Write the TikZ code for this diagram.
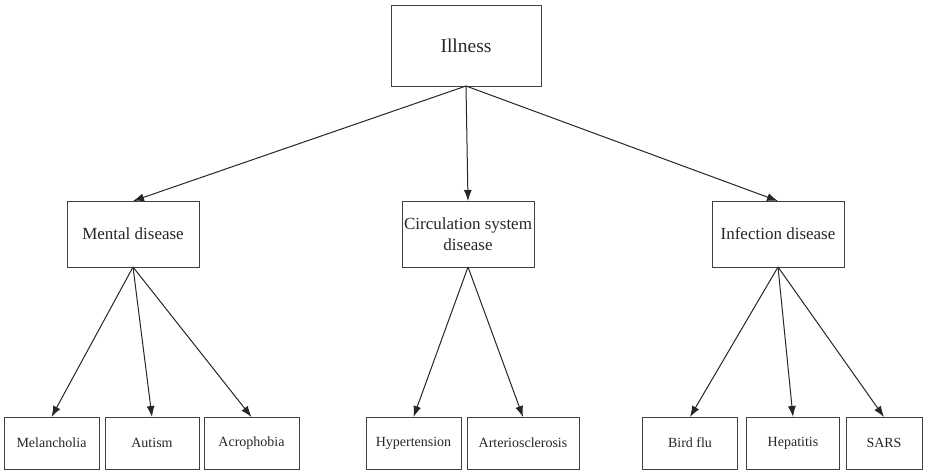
\documentclass[tikz,border=0pt]{standalone}
\usepackage{fontspec}
\setmainfont{Liberation Serif}
\usetikzlibrary{arrows.meta}
\begin{document}
\begin{tikzpicture}[x=1pt,y=-1pt,
  box/.style={draw=black!75,line width=1pt,rectangle,inner sep=0pt,outer sep=0pt,align=center,text=black!85},
  top/.style={box,font=\fontsize{19.5}{23}\selectfont},
  mid/.style={box,font=\fontsize{17}{20.5}\selectfont,minimum width=132,minimum height=66},
  low/.style={box,font=\fontsize{14}{16}\selectfont,minimum height=52},
  arr/.style={draw=black!85,line width=1pt,-{Latex[length=11pt,width=8pt]}}]
\useasboundingbox (0,0) rectangle (926,471);
\node[top,minimum width=150,minimum height=81] (ill) at (466,45.5) {Illness};
\node[mid] (men) at (133,234) {Mental disease};
\node[mid] (cir) at (468,234) {Circulation system\\disease};
\node[mid] (inf) at (778,234) {Infection disease};
\node[low,minimum width=95] (mel) at (51.5,443) {Melancholia};
\node[low,minimum width=94] (aut) at (152,443) {Autism};
\node[low,minimum width=95] (acr) at (251.5,443) {Acrophobia};
\node[low,minimum width=95] (hyp) at (413.5,443) {Hypertension};
\node[low,minimum width=112] (art) at (523,443) {Arteriosclerosis};
\node[low,minimum width=95] (bir) at (690,443) {Bird flu};
\node[low,minimum width=93] (hep) at (793,443) {Hepatitis};
\node[low,minimum width=76] (sar) at (884,443) {SARS};
\draw[arr] (ill.south) -- (men.north);
\draw[arr] (ill.south) -- (cir.north);
\draw[arr] (ill.south) -- (inf.north);
\draw[arr] (men.south) -- (mel.north);
\draw[arr] (men.south) -- (aut.north);
\draw[arr] (men.south) -- (acr.north);
\draw[arr] (cir.south) -- (hyp.north);
\draw[arr] (cir.south) -- (art.north);
\draw[arr] (inf.south) -- (bir.north);
\draw[arr] (inf.south) -- (hep.north);
\draw[arr] (inf.south) -- (sar.north);
\end{tikzpicture}
\end{document}
